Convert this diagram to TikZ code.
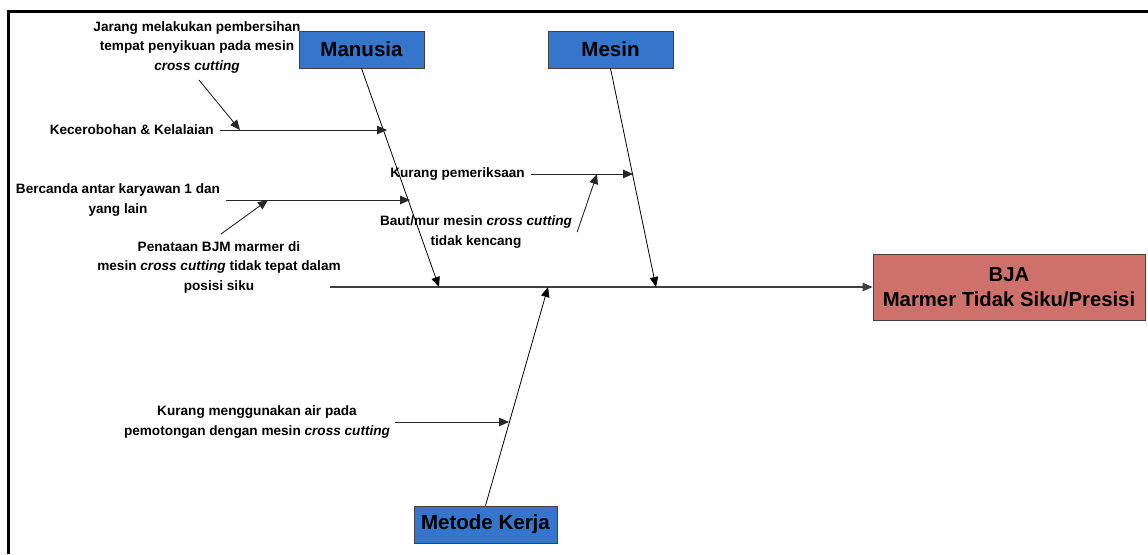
\documentclass[tikz,border=0pt]{standalone}
\usepackage{fontspec}
\setmainfont{Liberation Sans}
\usetikzlibrary{arrows.meta,calc}
\definecolor{boxblue}{RGB}{54,117,204}
\definecolor{boxred}{RGB}{206,113,106}
\begin{document}
\begin{tikzpicture}[x=1pt,y=-1pt,
  cat/.style={draw=black!75, line width=0.8pt, fill=boxblue, font=\bfseries\fontsize{20.5}{24}\selectfont, inner sep=0pt, minimum height=37pt},
  lbl/.style={font=\bfseries\fontsize{13.6}{19.5}\selectfont, align=center, inner sep=0pt},
  arr/.style={-{Triangle[length=10pt,width=8.5pt]}, line width=0.9pt, draw=black!85},
  bone/.style={-{Triangle[length=10pt,width=8.5pt]}, line width=0.8pt, draw=black},
  spine/.style={-{Triangle[length=10pt,width=8.5pt]}, line width=1.2pt, draw=black!75}
]
\useasboundingbox (0,0) rectangle (1148,554);
% frame
\draw[line width=3pt] (1148,11) -- (8,11) -- (8,554);

% labels
\node[lbl] (jar) at (197,47) {Jarang melakukan pembersihan\\tempat penyikuan pada mesin\\\textit{cross cutting}};
\node[lbl, anchor=east] (kec) at (214,130) {Kecerobohan \& Kelalaian};
\node[lbl] (ber) at (118,200) {Bercanda antar karyawan 1 dan\\yang lain};
\node[lbl] (pen) at (219,267) {Penataan BJM marmer di\\mesin \textit{cross cutting} tidak tepat dalam\\posisi siku};
\node[lbl, anchor=east] (kur) at (525,174) {Kurang pemeriksaan};
\node[lbl] (baut) at (476,232) {Baut/mur mesin \textit{cross cutting}\\tidak kencang};
\node[lbl] (air) at (257,422) {Kurang menggunakan air pada\\pemotongan dengan mesin \textit{cross cutting}};

% category boxes
\node[cat, minimum width=125pt] (man) at (361.5,49.5) {Manusia};
\node[cat, minimum width=125pt] (mes) at (610.5,49.5) {Mesin};
\node[cat, minimum width=143pt] (met) at (485.5,524.5) {Metode Kerja};
\node[draw=black!75, line width=0.8pt, fill=boxred, font=\bfseries\fontsize{20.3}{25}\selectfont, align=center, inner sep=0pt, minimum width=272pt, minimum height=66pt] (bja) at (1009,287) {BJA\\Marmer Tidak Siku/Presisi};

% coordinates
\coordinate (sp0) at (330,287);
\coordinate (s1) at (439,287);
\coordinate (s2) at (656,287);
\coordinate (s3) at (548,287);
\coordinate (m1) at (387,130);
\coordinate (m2) at (410,200);
\coordinate (k1) at (633,174);
\coordinate (w1) at (509,422);
\coordinate (j0) at (199,80);
\coordinate (j1) at (240,130);
\coordinate (p0) at (221,234);
\coordinate (p1) at (268,200);
\coordinate (b1) at (597,174);

% spine and bones
\draw[spine] (sp0) -- (bja.west);
\draw[bone] (man.south) -- (s1);
\draw[bone] (mes.south) -- (s2);
\draw[bone] (met.north) -- (s3);

% sub causes
\draw[arr] ($(kec.east)+(6,0)$) -- (m1);
\draw[arr] (j0) -- (j1);
\draw[arr] ($(ber.east |- m2)+(6,0)$) -- (m2);
\draw[arr] (p0) -- (p1);
\draw[arr] ($(kur.east)+(6,0)$) -- (k1);
\draw[arr] ($(baut.east)+(5,0)$) -- (b1);
\draw[arr] ($(air.east)+(5,0)$) -- (w1);
\end{tikzpicture}
\end{document}
